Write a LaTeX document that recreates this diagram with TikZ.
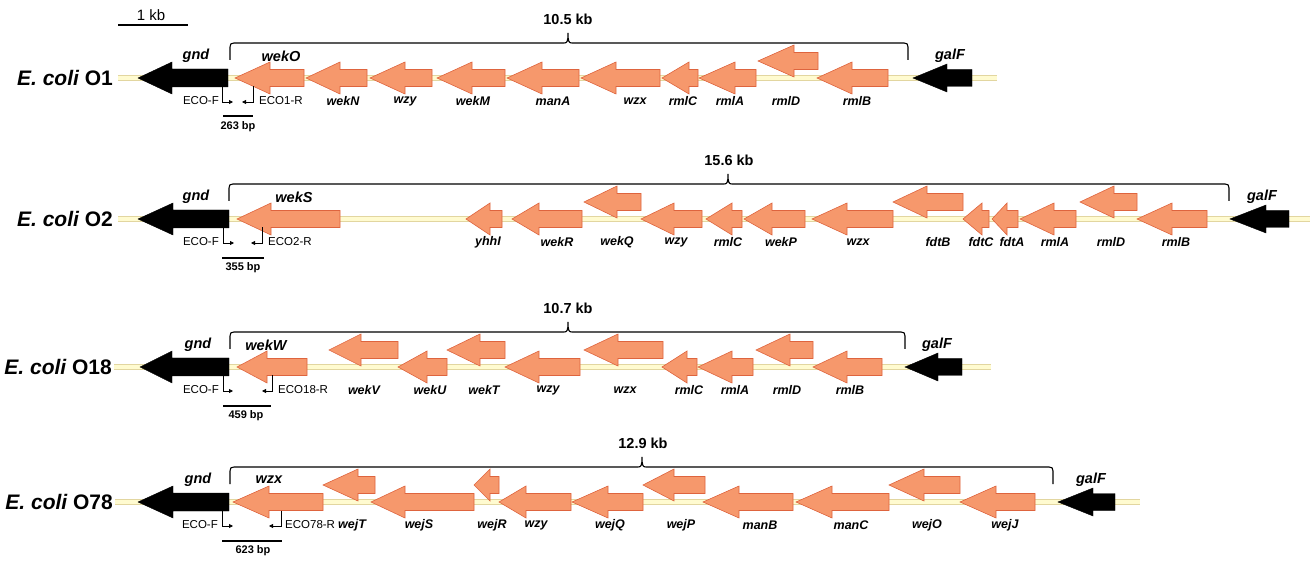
\documentclass[tikz,border=0pt]{standalone}
\usepackage{fontspec}
\setmainfont{Liberation Sans}
\usetikzlibrary{arrows.meta}

\definecolor{geneFill}{RGB}{246,152,108}
\definecolor{geneEdge}{RGB}{222,100,62}
\definecolor{bbFill}{RGB}{255,251,208}
\definecolor{bbEdge}{RGB}{226,214,160}

% gene arrow pointing left: tip, head base, tail, axis y
\newcommand\geneorf[5][gene]{%
  \draw[#1] (#2,#5) -- (#3,#5-16) -- (#3,#5-8.5) -- (#4,#5-8.5)
    -- (#4,#5+8.5) -- (#3,#5+8.5) -- (#3,#5+16) -- cycle;}
% flanking gene (black): tip, head base, tail, axis y, head half, body half
\newcommand\flankgene[6]{%
  \draw[flank] (#1,#4) -- (#2,#4-#5) -- (#2,#4-#6) -- (#3,#4-#6)
    -- (#3,#4+#6) -- (#2,#4+#6) -- (#2,#4+#5) -- cycle;}
% cluster brace: left end, peak, right end, axis y
\newcommand\kbbrace[4]{%
  \draw[brace] (#1,#4-18) -- (#1,#4-31) .. controls (#1,#4-34) and (#1+1,#4-35) .. (#1+4,#4-35)
    -- (#2-4,#4-35) .. controls (#2-1,#4-35) and (#2,#4-36) .. (#2,#4-45)
    .. controls (#2,#4-36) and (#2+1,#4-35) .. (#2+4,#4-35)
    -- (#3-4,#4-35) .. controls (#3-1,#4-35) and (#3,#4-34) .. (#3,#4-31) -- (#3,#4-18);}

\tikzset{
  gene/.style={fill=geneFill, draw=geneEdge, line width=0.6pt, line join=miter},
  flank/.style={fill=black, draw=black, line width=0.4pt},
  bbedge/.style={draw=bbEdge, line width=6.5pt},
  bbfill/.style={draw=bbFill, line width=4pt},
  brace/.style={draw=black, line width=1.1pt},
  glab/.style={font=\fontsize{12.5}{14}\selectfont\bfseries\itshape, inner sep=0pt},
  tlab/.style={font=\fontsize{14.5}{16}\selectfont\bfseries\itshape, inner sep=0pt},
  strain/.style={font=\fontsize{21}{24}\selectfont\bfseries, inner sep=0pt, anchor=east},
  kblab/.style={font=\fontsize{14.5}{16}\selectfont\bfseries, inner sep=0pt},
  plab/.style={font=\fontsize{11.5}{13}\selectfont, inner sep=0pt},
  bplab/.style={font=\fontsize{11}{13}\selectfont\bfseries, inner sep=0pt},
  pline/.style={draw=black, line width=0.8pt, -{Triangle[length=4pt,width=4pt]}},
  bar/.style={draw=black, line width=1.6pt}
}

\begin{document}
\begin{tikzpicture}[x=1pt, y=-1pt]
\useasboundingbox (0,0) rectangle (1310,561);

% scale bar
\coordinate (sbL) at (118,25);
\coordinate (sbR) at (188,25);
\draw[draw=black, line width=1.3pt] (sbL) -- (sbR);
\node[font=\fontsize{15}{17}\selectfont, inner sep=0pt] (sb) at (151,15) {1 kb};

% ---------------- E. coli O1 ----------------
\def\ya{78}
\coordinate (a-L) at (118,\ya);
\coordinate (a-R) at (997,\ya);
\draw[bbedge] (a-L) -- (a-R);
\draw[bbfill] (a-L) -- (a-R);
\node[strain] (a-name) at (113,\ya) {\itshape E. coli\upshape\ O1};
\flankgene{138}{172}{228}{\ya}{16}{9}
\flankgene{913}{947}{972}{\ya}{14}{8.5}
\node[tlab] (a-gnd) at (196,\ya-22) {gnd};
\node[tlab] (a-galF) at (950,\ya-22) {galF};
\kbbrace{230}{568}{908}{\ya}
\node[kblab] (a-kb) at (568,\ya-59) {10.5 kb};
\geneorf{235}{270}{304}{\ya}
\node[tlab] (a-wekO) at (281,\ya-22) {wekO};
\geneorf{306}{340}{367}{\ya}
\geneorf{370}{405}{432}{\ya}
\geneorf{437}{472}{505}{\ya}
\geneorf{507}{542}{579}{\ya}
\geneorf{581}{616}{660}{\ya}
\geneorf{662}{689}{698}{\ya}
\geneorf{699}{735}{756}{\ya}
\geneorf{758}{794}{818}{\ya-17}
\geneorf{817}{852}{888}{\ya}
\node[glab] (a-wekN) at (343,\ya+23) {wekN};
\node[glab] (a-wzy) at (405,\ya+23) {wzy};
\node[glab] (a-wekM) at (473,\ya+23) {wekM};
\node[glab] (a-manA) at (553,\ya+23) {manA};
\node[glab] (a-wzx) at (635,\ya+23) {wzx};
\node[glab] (a-rmlC) at (683,\ya+23) {rmlC};
\node[glab] (a-rmlA) at (730,\ya+23) {rmlA};
\node[glab] (a-rmlD) at (786,\ya+23) {rmlD};
\node[glab] (a-rmlB) at (857,\ya+23) {rmlB};
\coordinate (a-Ft) at (222,\ya+9);
\coordinate (a-Fe) at (233,\ya+24);
\coordinate (a-Rt) at (253,\ya+8.5);
\coordinate (a-Re) at (242,\ya+24);
\draw[pline] (a-Ft) |- (a-Fe);
\draw[pline] (a-Rt) |- (a-Re);
\node[plab, anchor=east] (a-F) at (219,\ya+23) {ECO-F};
\node[plab, anchor=west] (a-R) at (259,\ya+23) {ECO1-R};
\coordinate (a-bL) at (223,\ya+38);
\coordinate (a-bR) at (253,\ya+38);
\draw[bar] (a-bL) -- (a-bR);
\node[bplab] (a-bp) at (238,\ya+49) {263 bp};

% ---------------- E. coli O2 ----------------
\def\ya{219}
\coordinate (b-L) at (118,\ya);
\coordinate (b-R) at (1310,\ya);
\draw[bbedge] (b-L) -- (b-R);
\draw[bbfill] (b-L) -- (b-R);
\node[strain] (b-name) at (113,\ya) {\itshape E. coli\upshape\ O2};
\flankgene{138}{173}{229}{\ya}{16}{9}
\flankgene{1230}{1266}{1289}{\ya}{14}{8.5}
\node[tlab] (b-gnd) at (196,\ya-22) {gnd};
\node[tlab] (b-galF) at (1262,\ya-22) {galF};
\kbbrace{229}{728}{1229}{\ya}
\node[kblab] (b-kb) at (729,\ya-59) {15.6 kb};
\geneorf{237}{271}{340}{\ya}
\node[tlab] (b-wekS) at (294,\ya-22) {wekS};
\geneorf{466}{490}{502}{\ya}
\geneorf{512}{539}{582}{\ya}
\geneorf{584}{617}{641}{\ya-17}
\geneorf{641}{674}{702}{\ya}
\geneorf{706}{732}{742}{\ya}
\geneorf{744}{772}{805}{\ya}
\geneorf{812}{847}{893}{\ya}
\geneorf{893}{927}{963}{\ya-17}
\geneorf{963}{982}{989}{\ya}
\geneorf{992}{1007}{1018}{\ya}
\geneorf{1020}{1054}{1076}{\ya}
\geneorf{1080}{1114}{1137}{\ya-17}
\geneorf{1137}{1172}{1207}{\ya}
\node[glab] (b-yhhI) at (488,\ya+23) {yhhI};
\node[glab] (b-wekR) at (557,\ya+23) {wekR};
\node[glab] (b-wekQ) at (617,\ya+23) {wekQ};
\node[glab] (b-wzy) at (676,\ya+23) {wzy};
\node[glab] (b-rmlC) at (728,\ya+23) {rmlC};
\node[glab] (b-wekP) at (781,\ya+23) {wekP};
\node[glab] (b-wzx) at (858,\ya+23) {wzx};
\node[glab] (b-fdtB) at (938,\ya+23) {fdtB};
\node[glab] (b-fdtC) at (981,\ya+23) {fdtC};
\node[glab] (b-fdtA) at (1012,\ya+23) {fdtA};
\node[glab] (b-rmlA) at (1055,\ya+23) {rmlA};
\node[glab] (b-rmlD) at (1111,\ya+23) {rmlD};
\node[glab] (b-rmlB) at (1176,\ya+23) {rmlB};
\coordinate (b-Ft) at (223,\ya+9);
\coordinate (b-Fe) at (234,\ya+24);
\coordinate (b-Rt) at (262,\ya+8.5);
\coordinate (b-Re) at (251,\ya+24);
\draw[pline] (b-Ft) |- (b-Fe);
\draw[pline] (b-Rt) |- (b-Re);
\node[plab, anchor=east] (b-F) at (219,\ya+23) {ECO-F};
\node[plab, anchor=west] (b-R) at (268,\ya+23) {ECO2-R};
\coordinate (b-bL) at (222,\ya+39);
\coordinate (b-bR) at (264,\ya+39);
\draw[bar] (b-bL) -- (b-bR);
\node[bplab] (b-bp) at (243,\ya+49) {355 bp};

% ---------------- E. coli O18 ----------------
\def\ya{367}
\coordinate (c-L) at (114,\ya);
\coordinate (c-R) at (991,\ya);
\draw[bbedge] (c-L) -- (c-R);
\draw[bbfill] (c-L) -- (c-R);
\node[strain] (c-name) at (112,\ya) {\itshape E. coli\upshape\ O18};
\flankgene{140}{172}{229}{\ya}{16}{9}
\flankgene{905}{938}{962}{\ya}{14}{8.5}
\node[tlab] (c-gnd) at (198,\ya-22) {gnd};
\node[tlab] (c-galF) at (937,\ya-22) {galF};
\kbbrace{230}{568}{905}{\ya}
\node[kblab] (c-kb) at (568,\ya-59) {10.7 kb};
\geneorf{237}{267}{307}{\ya}
\node[tlab] (c-wekW) at (266,\ya-22) {wekW};
\geneorf{329}{361}{398}{\ya-17}
\geneorf{398}{427}{447}{\ya}
\geneorf{447}{480}{505}{\ya-17}
\geneorf{505}{539}{580}{\ya}
\geneorf{584}{618}{663}{\ya-17}
\geneorf{662}{687}{697}{\ya}
\geneorf{698}{732}{753}{\ya}
\geneorf{756}{790}{813}{\ya-17}
\geneorf{813}{847}{882}{\ya}
\node[glab] (c-wekV) at (364,\ya+23) {wekV};
\node[glab] (c-wekU) at (430,\ya+23) {wekU};
\node[glab] (c-wekT) at (484,\ya+23) {wekT};
\node[glab] (c-wzy) at (548,\ya+23) {wzy};
\node[glab] (c-wzx) at (625,\ya+23) {wzx};
\node[glab] (c-rmlC) at (689,\ya+23) {rmlC};
\node[glab] (c-rmlA) at (735,\ya+23) {rmlA};
\node[glab] (c-rmlD) at (787,\ya+23) {rmlD};
\node[glab] (c-rmlB) at (850,\ya+23) {rmlB};
\coordinate (c-Ft) at (223,\ya+9);
\coordinate (c-Fe) at (233,\ya+24);
\coordinate (c-Rt) at (272,\ya+8.5);
\coordinate (c-Re) at (262,\ya+24);
\draw[pline] (c-Ft) |- (c-Fe);
\draw[pline] (c-Rt) |- (c-Re);
\node[plab, anchor=east] (c-F) at (219,\ya+23) {ECO-F};
\node[plab, anchor=west] (c-R) at (278,\ya+23) {ECO18-R};
\coordinate (c-bL) at (223,\ya+39);
\coordinate (c-bR) at (271,\ya+39);
\draw[bar] (c-bL) -- (c-bR);
\node[bplab] (c-bp) at (246,\ya+49) {459 bp};

% ---------------- E. coli O78 ----------------
\def\ya{502}
\coordinate (d-L) at (115,\ya);
\coordinate (d-R) at (1140,\ya);
\draw[bbedge] (d-L) -- (d-R);
\draw[bbfill] (d-L) -- (d-R);
\node[strain] (d-name) at (113,\ya) {\itshape E. coli\upshape\ O78};
\flankgene{138}{173}{229}{\ya}{16}{9}
\flankgene{1058}{1093}{1115}{\ya}{14}{8.5}
\node[tlab] (d-gnd) at (198,\ya-22) {gnd};
\node[tlab] (d-galF) at (1091,\ya-22) {galF};
\kbbrace{230}{642}{1053}{\ya}
\node[kblab] (d-kb) at (643,\ya-59) {12.9 kb};
\geneorf{233}{269}{323}{\ya}
\node[tlab] (d-wzx) at (269,\ya-22) {wzx};
\geneorf{323}{358}{375}{\ya-17}
\geneorf{371}{405}{474}{\ya}
\geneorf{474}{490}{499}{\ya-17}
\geneorf{499}{526}{571}{\ya}
\geneorf{572}{608}{643}{\ya}
\geneorf{643}{674}{705}{\ya-17}
\geneorf{703}{739}{793}{\ya}
\geneorf{796}{832}{889}{\ya}
\geneorf{889}{924}{960}{\ya-17}
\geneorf{960}{996}{1035}{\ya}
\node[glab] (d-wejT) at (352,\ya+23) {wejT};
\node[glab] (d-wejS) at (419,\ya+23) {wejS};
\node[glab] (d-wejR) at (492,\ya+23) {wejR};
\node[glab] (d-wzy) at (536,\ya+23) {wzy};
\node[glab] (d-wejQ) at (610,\ya+23) {wejQ};
\node[glab] (d-wejP) at (681,\ya+23) {wejP};
\node[glab] (d-manB) at (760,\ya+23) {manB};
\node[glab] (d-manC) at (851,\ya+23) {manC};
\node[glab] (d-wejO) at (927,\ya+23) {wejO};
\node[glab] (d-wejJ) at (1005,\ya+23) {wejJ};
\coordinate (d-Ft) at (222,\ya+9);
\coordinate (d-Fe) at (233,\ya+24);
\coordinate (d-Rt) at (281,\ya+8.5);
\coordinate (d-Re) at (269,\ya+24);
\draw[pline] (d-Ft) |- (d-Fe);
\draw[pline] (d-Rt) |- (d-Re);
\node[plab, anchor=east] (d-F) at (218,\ya+23) {ECO-F};
\node[plab, anchor=west] (d-R) at (285,\ya+23) {ECO78-R};
\coordinate (d-bL) at (222,\ya+39);
\coordinate (d-bR) at (282,\ya+39);
\draw[bar] (d-bL) -- (d-bR);
\node[bplab] (d-bp) at (253,\ya+49) {623 bp};
\end{tikzpicture}
\end{document}
